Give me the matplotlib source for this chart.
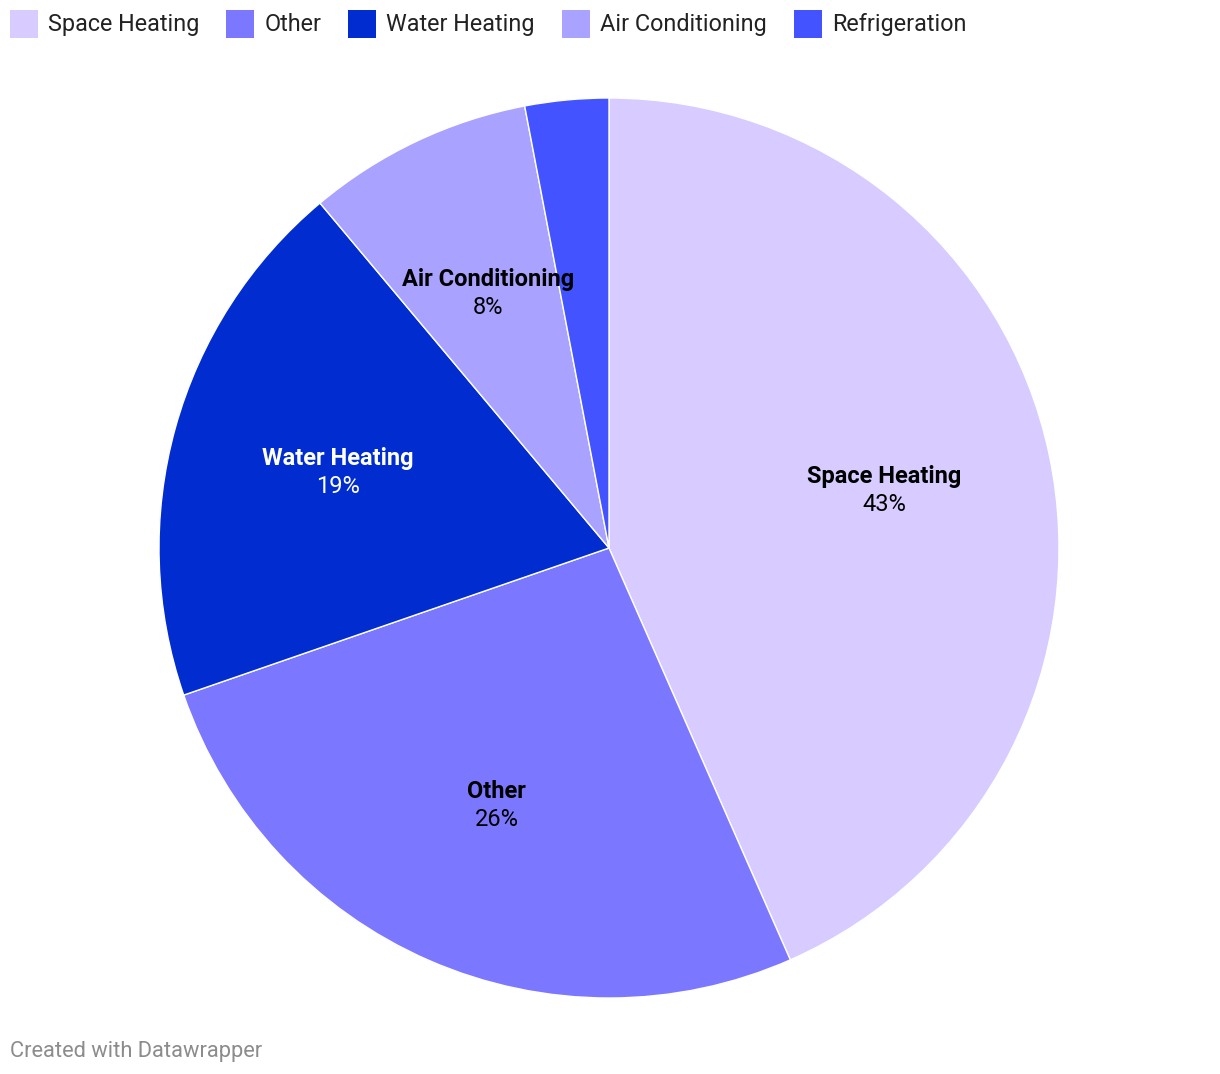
import matplotlib
matplotlib.use("Agg")
import matplotlib.pyplot as plt
from matplotlib.patches import Rectangle
import numpy as np

categories = ["Space Heating", "Other", "Water Heating", "Air Conditioning", "Refrigeration"]
values = [43.4, 26.3, 19.2, 8.1, 3.0]
pct_labels = ["43%", "26%", "19%", "8%", None]
colors = ["#d8cbff", "#7b78ff", "#012dd0", "#aaa2ff", "#4353ff"]
label_colors = ["#000000", "#000000", "#ffffff", "#000000", "#000000"]

plt.rcParams['font.family'] = ['Roboto', 'DejaVu Sans']

W, H = 1220, 1074
fig = plt.figure(figsize=(W / 100, H / 100), dpi=100)

# pie axes: center (609,548) px from top, radius 450
cx, cy, R = 609, 548, 450
ax = fig.add_axes([(cx - R) / W, (H - cy - R) / H, 2 * R / W, 2 * R / H])
wedges, _ = ax.pie(values, colors=colors, startangle=90, counterclock=False,
                   radius=1.0, wedgeprops=dict(edgecolor="white", linewidth=1.0))
ax.set_xlim(-1, 1)
ax.set_ylim(-1, 1)
ax.set_aspect("equal")
ax.axis("off")

off = 14 * 72 / 100  # 14 px in points
for w, cat, pct, lc in zip(wedges, categories, pct_labels, label_colors):
    if pct is None:
        continue
    mid = np.deg2rad((w.theta1 + w.theta2) / 2)
    d = 0.625
    x, y = d * np.cos(mid), d * np.sin(mid)
    ax.annotate(cat, (x, y), xytext=(0, off), textcoords="offset points",
                ha="center", va="center", fontsize=17, fontweight="bold", color=lc)
    ax.annotate(pct, (x, y), xytext=(0, -off), textcoords="offset points",
                ha="center", va="center", fontsize=17, color=lc)

# legend row at top
fig.canvas.draw()
renderer = fig.canvas.get_renderer()
x = 10
sq = 28
y_top = 10
baseline = 31
for cat, col in zip(categories, colors):
    fig.patches.append(Rectangle((x / W, (H - y_top - sq) / H), sq / W, sq / H,
                                 transform=fig.transFigure, facecolor=col,
                                 edgecolor="none"))
    t = fig.text((x + sq + 10) / W, (H - baseline) / H, cat,
                 ha="left", va="baseline", fontsize=16.8, color="#222222")
    bb = t.get_window_extent(renderer)
    x = x + sq + 10 + bb.width + 27

fig.text(10 / W, (H - 1057) / H, "Created with Datawrapper", ha="left",
         va="baseline", fontsize=15.75, color="#8c8c8c")

fig.savefig("out.png", dpi=100, facecolor="white")
